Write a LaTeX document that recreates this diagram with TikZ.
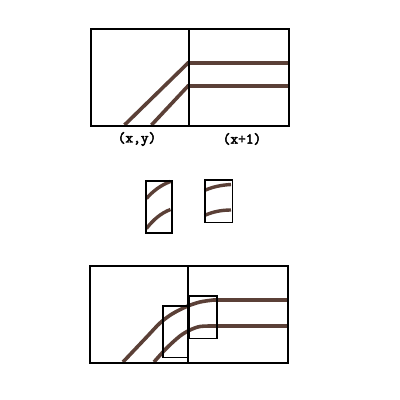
\documentclass[tikz,border=0pt]{standalone}
\usepackage{fontspec}
\newfontfamily\monob[FakeBold=3]{Latin Modern Mono}
\definecolor{wire}{HTML}{5B4037}
\begin{document}
\begin{tikzpicture}[x=1pt,y=-1pt,
  wireline/.style={draw=wire,line width=3.6pt},
  boxline/.style={draw=black,line width=1.6pt},
  lbl/.style={font=\monob\fontsize{15}{15}\selectfont,inner sep=0pt}]
\useasboundingbox (0,0) rectangle (400,400);
% top panel
\coordinate (t1a) at (124.5,125); \coordinate (t1b) at (188,63); \coordinate (t1c) at (288,63);
\coordinate (t2a) at (151.5,125); \coordinate (t2b) at (188,86); \coordinate (t2c) at (288,86);
\draw[wireline] (t1a) -- (t1b) -- (t1c);
\draw[wireline] (t2a) -- (t2b) -- (t2c);
\node[boxline,minimum width=198pt,minimum height=97pt,anchor=north west,inner sep=0pt] (top) at (90,28) {};
\draw[boxline] (189,28) -- (189,125);
\node[lbl] (lxy) at (137,139) {(x,y)};
\node[lbl] (lx1) at (242,139) {(x+1)};
% middle
\draw[wireline,line width=3.4pt] (146.5,198.5) .. controls (153,191) and (161,185) .. (170.5,181.5);
\draw[wireline,line width=3.4pt] (146.5,228.5) .. controls (153,220) and (161,213) .. (170.5,209.5);
\draw[wireline,line width=3.4pt] (204.5,190.5) .. controls (212,187) and (221,185) .. (231,184.5);
\draw[wireline,line width=3.4pt] (204.5,215.5) .. controls (212,212) and (221,210) .. (231,210);
\node[boxline,minimum width=26pt,minimum height=52pt,anchor=north west,inner sep=0pt] (m1) at (145,180) {};
\node[boxline,minimum width=27.5pt,minimum height=42.5pt,anchor=north west,inner sep=0pt] (m2) at (204,179) {};
% bottom
\draw[wireline] plot[smooth,tension=0.5] coordinates {(123,362) (146.7,337) (160,323) (172,314) (186.7,306.5) (200,302) (213.3,300)} -- (287,300);
\draw[wireline] plot[smooth,tension=0.5] coordinates {(154,362) (166.7,348) (180,336) (190,330) (200,326.5) (213.3,326)} -- (287,326);
\node[boxline,minimum width=198pt,minimum height=97pt,anchor=north west,inner sep=0pt] (bot) at (89,265) {};
\draw[boxline] (188,265) -- (188,362);
\node[boxline,minimum width=25.5pt,minimum height=51.5pt,anchor=north west,inner sep=0pt] (b1) at (162,305) {};
\node[boxline,minimum width=28pt,minimum height=42.5pt,anchor=north west,inner sep=0pt] (b2) at (188,295) {};
\end{tikzpicture}
\end{document}
